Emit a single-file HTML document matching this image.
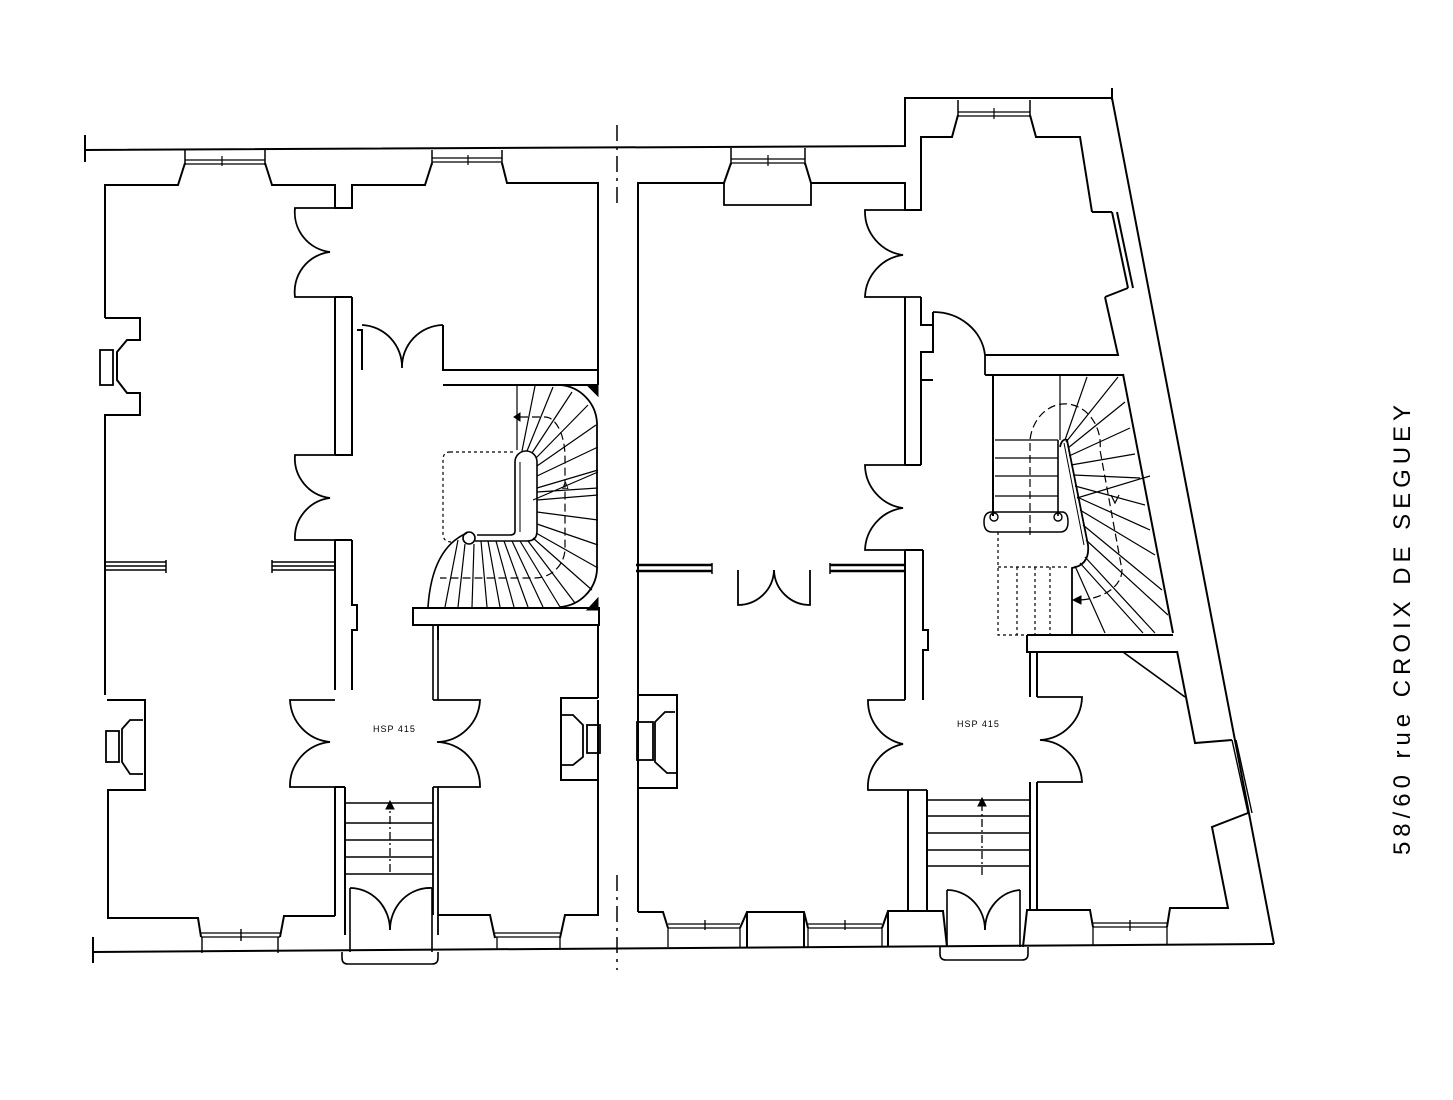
<!DOCTYPE html>
<html><head><meta charset="utf-8"><style>
html,body{margin:0;padding:0;background:#fff;}
svg{display:block;}
</style></head><body>
<svg width="1453" height="1100" viewBox="0 0 1453 1100" xmlns="http://www.w3.org/2000/svg" fill="none" stroke="#000" stroke-width="2" stroke-linejoin="miter" font-family="Liberation Sans, sans-serif">
<!-- ===== outer lines ===== -->
<path d="M85,150 L905,146 V98 H1112 L1274,944"/>
<path d="M85,135 V162"/>
<path d="M93,952 L1274,944"/>
<path d="M93,937 V963"/>
<path d="M1112,88 V100"/>
<path d="M617,125 V205 M617,875 V970" stroke-dasharray="16,6,3,6" stroke-width="1.5"/>

<!-- ===== LEFT BUILDING ===== -->
<path d="M105,318 V185 H178 L185,163 M265,163 L272,185 H335 V208 H352 V185 H425 L432,163 M502,163 L507,183 H598 V385"/>
<path d="M185,150 V165 M265,150 V165 M432,150 V165 M502,150 V165" stroke-width="1.5"/>
<path d="M185,160 H265 M185,164 H265 M432,158 H502 M432,162 H502" stroke-width="1.3"/>
<path d="M222,156 V166 M468,155 V165" stroke-width="1.2"/>
<path d="M105,318 H140 V340 H127 L117,352 V380 L127,393 H140 V415 H105 V695"/>
<rect x="100" y="350" width="13" height="35" stroke-width="1.8"/>
<path d="M105,562 H166 M105,566 H166 M105,570 H166" stroke-width="1.4"/>
<path d="M166,560 V573" stroke-width="1.5"/>
<path d="M272,562 H335 M272,566 H335 M272,570 H335" stroke-width="1.4"/>
<path d="M272,560 V573" stroke-width="1.5"/>
<path d="M107,700 H145 V790 H108 V918 H198 L201,937 M280,937 L284,916 H335"/>
<path d="M143,720 H130 L122,729 V762 L130,774 H143" stroke-width="1.8"/>
<rect x="106" y="731" width="13" height="31" stroke-width="1.8"/>
<path d="M201,933 H280 M201,937 H280" stroke-width="1.3"/>
<path d="M202,937 V953 M278,937 V953 M241,929 V941" stroke-width="1.4"/>

<path d="M335,297 V455 M352,297 V455 H335 M335,297 H352"/>
<path d="M335,540 V690 M352,540 H335 M352,540 V605 H357 V630 H352 V690"/>
<path d="M335,787 V916 M345,787 V935 M335,787 H345"/>
<path d="M335,208 H295 A40,40 0 0 0 330,252 A40,40 0 0 0 295,297 H335" stroke-width="1.8"/>
<path d="M335,455 H295 A40,40 0 0 0 330,498 A40,40 0 0 0 295,540 H335" stroke-width="1.8"/>
<path d="M352,330 V385 M357,330 H362 V370"/>
<path d="M362,325 A42,42 0 0 1 402,368 M443,325 A42,42 0 0 0 402,368" stroke-width="1.8"/>
<path d="M443,325 V370 H598 M443,385 H598" />
<path d="M335,700 H290 A44,44 0 0 0 330,742 A44,44 0 0 0 290,787 H345" stroke-width="1.8"/>
<path d="M433,700 H480 A44,44 0 0 1 437,742 A44,44 0 0 1 480,787 H433" stroke-width="1.8"/>
<text x="373" y="732" font-size="9" fill="#000" stroke="none" letter-spacing="1">HSP 415</text>
<path d="M433,625 V700 M438,625 V700" stroke-width="1.6"/>
<path d="M433,787 V915 M438,787 V935" stroke-width="1.8"/>
<path d="M438,915 H460 H490 L495,938 M560,938 L565,915 H598 V700"/>
<path d="M495,933 H560 M495,937 H560" stroke-width="1.3"/>
<path d="M497,937 V950 M560,937 V950" stroke-width="1.3"/>
<path d="M438,625 V640 M598,625 V698" />
<path d="M598,698 H561 V780 H598 V915"/>
<path d="M562,715 H573 L583,725 V757 L573,765 H562" stroke-width="1.8"/>
<rect x="587" y="725" width="13" height="28" stroke-width="1.8"/>
<path d="M598,625 V640"/>
<path d="M345,803 H433 M345,823 H433 M345,840 H433 M345,857 H433 M345,874 H433" stroke-width="1.5"/>
<path d="M390,872 V808" stroke-width="1.3" stroke-dasharray="8,3,2,3"/>
<path d="M386,809 L390,801 L394,809 Z" fill="#000" stroke-width="1"/>
<path d="M350,888 A40,42 0 0 1 390,930 A40,42 0 0 1 432,888" stroke-width="1.8"/>
<path d="M350,888 V952 M432,888 V952" stroke-width="1.6"/>
<path d="M342,952 V958 Q342,964 348,964 H432 Q438,964 438,958 V952" stroke-width="1.6"/>

<path d="M413,608 H599 V625 H413 Z"/>
<path d="M517,385 H560 A40,40 0 0 1 597,423 V570 A40,40 0 0 1 560,607" stroke-width="1.8"/>
<path d="M428,607 Q432,548 467,533" stroke-width="1.6"/>
<circle cx="469" cy="538" r="6" stroke-width="1.6"/>
<path d="M475,541 H527 Q537,541 537,531 V462 A11,11 0 0 0 515,462 V531 Q515,535 510,535 H477" stroke-width="1.6"/>
<path d="M520,462 V532" stroke-width="1"/>
<path d="M450,452 H513 M450,452 Q443,452 443,460 V534 Q443,542 452,542" stroke-width="1.2" stroke-dasharray="3,3"/>
<g stroke-width="1.2">
<path d="M517,385 V450 M522,451 L535,386 M527,451 L553,387 M532,453 L572,392 M536,458 L588,405 M537,466 L596,425 M537,476 L598,447 M537,488 L598,470 M537,500 L598,495 M537,512 L598,520 M537,524 L598,545 M536,533 L598,568 M533,538 L592,590 M528,541 L575,603 M520,541 L560,607 M512,541 L543,607 M504,541 L528,607 M496,541 L514,607 M488,541 L500,607 M481,541 L487,607 M474,544 L472,607 M465,544 L458,607 M458,540 L445,607"/>
<path d="M537,492 L598,488 M533,500 L598,472" />
</g>
<path d="M520,417 H545 A20,40 0 0 1 565,457 V550 A30,30 0 0 1 535,578 H440" stroke-width="1.2" stroke-dasharray="8,4"/>
<path d="M520,413 L514,417 L520,421 Z" fill="#000" stroke-width="1"/>
<text x="562" y="489" font-size="10" fill="#000" stroke="none">Δ</text>
<path d="M587,385 L598,385 L598,396 Z M587,610 L598,610 L598,598 Z" fill="#000" stroke-width="1"/>

<!-- ===== RIGHT BUILDING ===== -->
<path d="M638,912 V183 H724 L731,163 M805,163 L811,183 H905 V210 H921 V137 H952 L958,115 M1030,115 L1036,137 H1080 L1092,212"/>
<path d="M731,148 V165 M805,148 V165 M958,100 V117 M1030,100 V117" stroke-width="1.5"/>
<path d="M731,159 H805 M731,163 H805 M958,112 H1030 M958,116 H1030" stroke-width="1.3"/>
<path d="M768,155 V166 M994,108 V119" stroke-width="1.2"/>
<path d="M724,183 V205 H811 V183" stroke-width="1.8"/>
<path d="M1092,212 H1112 M1112,212 L1128,288 M1117,212 L1133,288 M1105,297 L1128,288 M1105,297 L1118,355 H985" />
<path d="M921,210 H865 A44,44 0 0 0 903,255 A44,44 0 0 0 865,297 H921" stroke-width="1.8"/>
<path d="M905,297 V465 M921,297 V325 H933 V352 H921 V465 M905,465 H921"/>
<path d="M933,312 A52,48 0 0 1 985,355 V375" stroke-width="1.8"/>
<path d="M933,312 V352"/>
<path d="M921,352 V380 M921,380 H933 M985,375 H1123"/>
<path d="M921,465 H865 A44,44 0 0 0 903,508 A44,44 0 0 0 865,550 H921" stroke-width="1.8"/>
<path d="M905,550 V700 M923,550 V630 H928 V650 H923 V700 M905,550 H923" stroke-width="2"/>
<path d="M636,565 H712 M636,571 H712 M830,565 H905 M830,571 H905" stroke-width="2.5"/>
<path d="M712,563 V574 M830,563 V574" stroke-width="1.5"/>
<path d="M738,570 V605 A36,36 0 0 0 774,570 A36,36 0 0 0 810,605 V570" stroke-width="1.8"/>
<path d="M637,695 H677 V788 H637"/>
<path d="M675,712 H665 L655,722 V762 L667,773 H677" stroke-width="1.8"/>
<rect x="637" y="722" width="16" height="38" stroke-width="1.8"/>
<path d="M905,700 H868 A44,44 0 0 0 903,744 A44,44 0 0 0 868,790 H927" stroke-width="1.8"/>
<path d="M1037,697 H1082 A44,44 0 0 1 1040,740 A44,44 0 0 1 1082,782 H1037" stroke-width="1.8"/>
<text x="957" y="727" font-size="9" fill="#000" stroke="none" letter-spacing="1">HSP 415</text>
<path d="M1030,652 V697 M1037,652 V697" stroke-width="2"/>
<path d="M1030,782 V910 M1037,782 V910" stroke-width="2"/>
<path d="M908,790 V911 M927,790 V911"/>
<path d="M638,912 H663 L668,928 M740,928 L747,912 H804 L808,928 M882,928 L888,911 H943 L947,947 M747,912 V947 M804,912 V947 M888,911 V947"/>
<path d="M668,924 H740 M668,928 H740 M808,924 H882 M808,928 H882" stroke-width="1.3"/>
<path d="M668,928 V947 M740,928 V947 M808,928 V947 M882,928 V947 M705,920 V930 M845,920 V930" stroke-width="1.3"/>
<path d="M927,800 H1030 M927,816 H1030 M927,833 H1030 M927,850 H1030 M927,866 H1030" stroke-width="1.5"/>
<path d="M982,875 V806" stroke-width="1.3" stroke-dasharray="8,3,2,3"/>
<path d="M978,806 L982,798 L986,806 Z" fill="#000" stroke-width="1"/>
<path d="M947,890 A38,40 0 0 1 985,930 A38,40 0 0 1 1020,890" stroke-width="1.8"/>
<path d="M947,890 V947 M1020,890 V947" stroke-width="1.6"/>
<path d="M940,947 V954 Q940,960 946,960 H1022 Q1028,960 1028,954 V947" stroke-width="1.6"/>
<path d="M1023,947 L1027,910 H1090 L1093,927 M1167,927 L1170,908 H1228 L1212,827 L1248,813 M1232,740 L1195,743 L1177,651"/>
<path d="M1093,923 H1167 M1093,927 H1167 M1093,927 V945 M1167,927 V945 M1130,920 V931" stroke-width="1.3"/>
<path d="M1232,740 L1248,813 M1236,740 L1252,813" stroke-width="1.4"/>
<path d="M1123,652 L1185,697" stroke-width="1.6"/>
<path d="M1027,635 H1173 M1027,635 V652 H1177" stroke-width="2"/>
<path d="M993,374 V516 M1123,374 L1173,633" stroke-width="2"/>
<path d="M1058,440 V516" stroke-width="1.6"/>
<path d="M995,440 H1058 M995,458 H1058 M995,476 H1058 M995,496 H1058" stroke-width="1.3"/>
<path d="M992,512 H1062 Q1068,512 1068,522 Q1068,532 1060,532 H992 Q984,532 984,522 Q984,512 992,512 Z" stroke-width="1.5"/>
<circle cx="994" cy="517" r="4" stroke-width="1.4"/>
<circle cx="1058" cy="517" r="4" stroke-width="1.4"/>
<path d="M1060,447 Q1062,438 1067,440 L1088,545 Q1090,565 1072,568 V635" stroke-width="1.8"/>
<path d="M1064,443 L1084,545" stroke-width="1"/>
<g stroke-width="1.2">
<path d="M1060,374 V440 M1065,440 L1087,377 M1066,442 L1118,377 M1068,448 L1125,402 M1069,456 L1130,428 M1071,465 L1135,454 M1073,475 L1140,478 M1075,486 L1145,505 M1077,497 L1150,530 M1080,510 L1155,555 M1083,525 L1162,590 M1086,540 L1168,615 M1085,557 L1155,633 M1080,563 L1143,633 M1075,566 L1105,633 M1077,498 L1150,476"/>
</g>
<path d="M1030,535 V440 A30,35 0 0 1 1100,450 L1122,570 A45,30 0 0 1 1075,600" stroke-width="1.2" stroke-dasharray="8,4"/>
<path d="M1081,596 L1073,600 L1081,604 Z" fill="#000" stroke-width="1"/>
<path d="M1111,495 L1115,503 L1119,495" stroke-width="1.2"/>
<path d="M998,532 V635 H1027 M998,567 H1070 M1017,567 V635 M1035,567 V635 M1050,567 V635" stroke-width="1.2" stroke-dasharray="3,3"/>

<text transform="translate(1410,855) rotate(-90)" font-size="24" fill="#000" stroke="none" textLength="450" lengthAdjust="spacing">58/60 rue CROIX DE SEGUEY</text>
</svg>
</body></html>
